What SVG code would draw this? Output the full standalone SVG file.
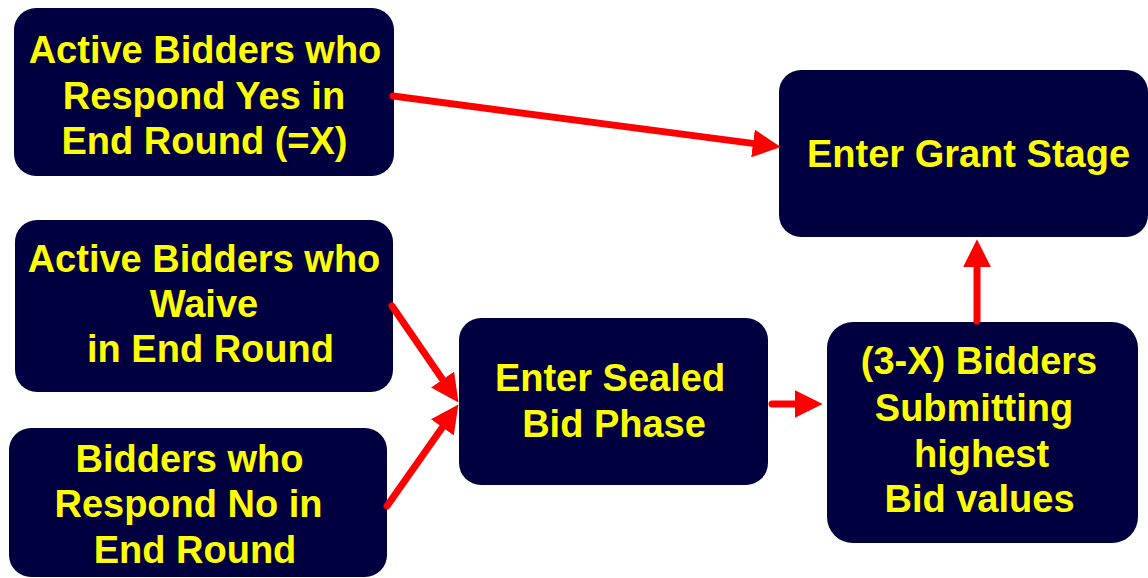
<svg xmlns="http://www.w3.org/2000/svg" width="1148" height="578" viewBox="0 0 1148 578">
<style>
.box{fill:#000040}
.t{font-family:"Liberation Sans",Arial,sans-serif;font-weight:bold;font-size:38px;fill:#FFFF00;text-anchor:middle}
.c{stroke:#FF0000;stroke-width:7;fill:none;stroke-linecap:round;marker-end:url(#ah)}
</style>
<defs>
<marker id="ah" markerUnits="userSpaceOnUse" markerWidth="28" markerHeight="28" viewBox="0 0 27 27" refX="7" refY="13.5" orient="auto">
<path d="M0,0 L27,13.5 L0,27 z" fill="#FF0000"/>
</marker>
</defs>
<rect width="1148" height="578" fill="#FFFFFF"/>
<g id="n1">
<rect class="box" x="14" y="8" width="380" height="168" rx="22"/>
<text class="t" x="205" y="63">Active Bidders who</text>
<text class="t" x="204" y="109">Respond Yes in</text>
<text class="t" x="204.5" y="154">End Round (=X)</text>
</g>
<g id="n2">
<rect class="box" x="15" y="220" width="378" height="172" rx="22"/>
<text class="t" x="204" y="272">Active Bidders who</text>
<text class="t" x="204" y="317">Waive</text>
<text class="t" x="210.5" y="362">in End Round</text>
</g>
<g id="n3">
<rect class="box" x="9" y="428" width="378" height="149" rx="22"/>
<text class="t" x="189.5" y="472">Bidders who</text>
<text class="t" x="188.5" y="517">Respond No in</text>
<text class="t" x="195" y="563">End Round</text>
</g>
<g id="n4">
<rect class="box" x="459" y="318" width="309" height="167" rx="22"/>
<text class="t" x="610" y="391">Enter Sealed</text>
<text class="t" x="614" y="437">Bid Phase</text>
</g>
<g id="n5">
<rect class="box" x="779" y="70" width="369" height="167" rx="22"/>
<text class="t" x="968.5" y="167">Enter Grant Stage</text>
</g>
<g id="n6">
<rect class="box" x="827" y="322" width="311" height="221" rx="26"/>
<text class="t" x="979" y="374">(3-X) Bidders</text>
<text class="t" x="974" y="421">Submitting</text>
<text class="t" x="981.5" y="467">highest</text>
<text class="t" x="979.5" y="512">Bid values</text>
</g>
<g id="connectors">
<path class="c" d="M393,96 L760.2,144.4"/>
<path class="c" d="M392,306 L446.7,385.5"/>
<path class="c" d="M387,506 L446.5,421.4"/>
<path class="c" d="M772,404 L802,404"/>
<path class="c" d="M977,321 L977,260"/>
</g>
</svg>
